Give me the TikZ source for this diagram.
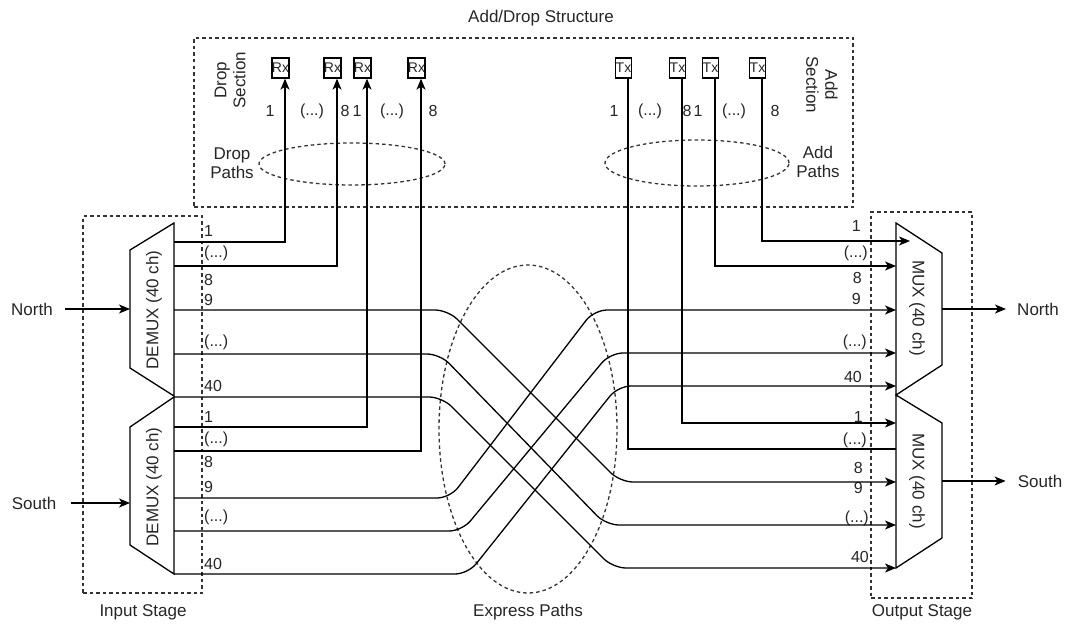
\documentclass[tikz,border=0pt]{standalone}
\usepackage{fontspec}
\setmainfont{Liberation Sans}
\usetikzlibrary{arrows.meta,positioning,shapes.geometric}

\begin{document}
\begin{tikzpicture}[x=1pt,y=-1pt,every node/.style={font=\fontsize{17}{19}\selectfont,align=center,inner sep=0pt,text=black!85},
frame/.style={draw,dash pattern=on 3.5pt off 3pt,line width=1.3pt,black!80},
portbox/.style={draw,line width=1.3pt,minimum width=16pt,minimum height=20pt,font=\fontsize{14}{14}\selectfont},
num/.style={font=\fontsize{16}{16}\selectfont},
wire/.style={line width=1.3pt},
arrow/.style={wire,-{Stealth[length=11pt,width=9pt,inset=3pt]}},
express/.style={arrow,rounded corners=13pt}]
\useasboundingbox (0,0) rectangle (1065,626);

\node (title) at (541,18) {Add/Drop Structure};
\node[frame,minimum width=659pt,minimum height=169pt] (adframe) at (523.5,122.5) {};
\node[rotate=90] (dropsec) at (230,80) {Drop\\Section};
\node[rotate=-90] (addsec) at (822,85) {Add\\Section};
\node[frame,ellipse,minimum width=186pt,minimum height=42pt] (droppaths) at (352,164) {};
\node[frame,ellipse,minimum width=184pt,minimum height=46pt] (addpaths) at (697,163) {};
\node (droplbl) at (232,163) {Drop\\Paths};
\node (addlbl) at (818,162) {Add\\Paths};
\foreach \n/\x in {1/280.5,2/332.5,3/362.5,4/416.5} \node[portbox] (rx\n) at (\x,68) {Rx};
\foreach \n/\x in {1/623.5,2/677.5,3/710.5,4/757.5} \node[portbox] (tx\n) at (\x,68) {Tx};
\foreach \t/\x [count=\i] in {1/270,{(...)}/312,8/345,1/357,{(...)}/392,8/433} \node[num] (dl\i) at (\x,111) {\t};
\foreach \t/\x [count=\i] in {1/614,{(...)}/650,8/687,1/698,{(...)}/734,8/775} \node[num] (al\i) at (\x,111) {\t};

\node[frame,minimum width=119pt,minimum height=377pt] (instage) at (142.5,404.5) {};
\node[frame,minimum width=101pt,minimum height=386pt] (outstage) at (921.5,405) {};
\node[frame,ellipse,minimum width=178pt,minimum height=328pt] (exprpaths) at (528,429) {};
\node (inlbl) at (143,612) {Input Stage};
\node (outlbl) at (922,612) {Output Stage};
\node (exprlbl) at (528,612) {Express Paths};

\draw[wire] (174,223) -- (130,250) -- (130,368) -- (174,396) -- cycle;
\draw[wire] (174,397) -- (130,427) -- (130,545) -- (174,574) -- cycle;
\draw[wire] (896,223) -- (942,253) -- (942,365) -- (896,395) -- cycle;
\draw[wire] (896,395) -- (942,423) -- (942,538) -- (896,568) -- cycle;
\node[rotate=90] (demuxn) at (154,310) {DEMUX (40 ch)};
\node[rotate=90] (demuxs) at (154,487) {DEMUX (40 ch)};
\node[rotate=-90] (muxn) at (917,308) {MUX (40 ch)};
\node[rotate=-90] (muxs) at (917,481) {MUX (40 ch)};

\foreach \n/\y in {1/242,2/266,3/310,4/354,5/397} \coordinate (dn\n) at (174,\y);
\foreach \n/\y in {1/427,2/451,3/498,4/531,5/574} \coordinate (ds\n) at (174,\y);
\foreach \n/\y in {2/266,3/310,4/353,5/386} \coordinate (mn\n) at (896,\y);
\coordinate (mn1) at (910,241);
\foreach \n/\y in {1/423,2/449,3/482,4/525,5/568} \coordinate (ms\n) at (896,\y);
\coordinate (dnin) at (130,309);
\coordinate (dsin) at (130,503);
\coordinate (mnout) at (942,309);
\coordinate (msout) at (942,481);

\foreach \t/\y [count=\i] in {1/231,{(...)}/253,8/280,9/300,{(...)}/342,40/386} \node[num,anchor=west] (dnl\i) at (204,\y) {\t};
\foreach \t/\y [count=\i] in {1/417,{(...)}/439,8/462,9/487,{(...)}/517,40/564} \node[num,anchor=west] (dsl\i) at (204,\y) {\t};
\foreach \t/\y/\x [count=\i] in {1/226/861,{(...)}/253/868,8/278/862,9/299/861,{(...)}/342/867,40/377/862} \node[num,anchor=east] (mnl\i) at (\x,\y) {\t};
\foreach \t/\y/\x [count=\i] in {1/417/863,{(...)}/440/867,8/468/863,9/488/863,{(...)}/518/869,40/557/869} \node[num,anchor=east] (msl\i) at (\x,\y) {\t};

\node[inner xsep=12pt] (nin) at (32,309) {North};
\node[inner xsep=15pt] (sin) at (34,503) {South};
\node[inner xsep=11pt] (nout) at (1038,309) {North};
\node[inner xsep=12pt] (sout) at (1040,481) {South};
\draw[arrow] (nin) -- (dnin);
\draw[arrow] (sin) -- (dsin);
\draw[arrow] (mnout) -- (nout);
\draw[arrow] (msout) -- (sout);

\draw[arrow] (dn1) -| ([xshift=4.5pt]rx1.south);
\draw[arrow] (dn2) -| ([xshift=4.5pt]rx2.south);
\draw[arrow] (ds1) -| ([xshift=4.5pt]rx3.south);
\draw[arrow] (ds2) -| ([xshift=4.5pt]rx4.south);
\draw[arrow] ([xshift=4.5pt]tx4.south) |- (mn1);
\draw[arrow] ([xshift=4.5pt]tx3.south) |- (mn2);
\draw[arrow] ([xshift=4.5pt]tx2.south) |- (ms1);
\draw[wire] ([xshift=4.5pt]tx1.south) |- (ms2);

\draw[express] (dn3) -- (448,310) -- (620,482) -- (ms3);
\draw[express] (dn4) -- (440,354) -- (606,525) -- (ms4);
\draw[express] (dn5) -- (442,397) -- (613,568) -- (ms5);
\draw[express] (ds3) -- (450,498) -- (594,310) -- (mn3);
\draw[express] (ds4) -- (462,531) -- (610,353) -- (mn4);
\draw[express] (ds5) -- (468,574) -- (618,386) -- (mn5);
\end{tikzpicture}
\end{document}
